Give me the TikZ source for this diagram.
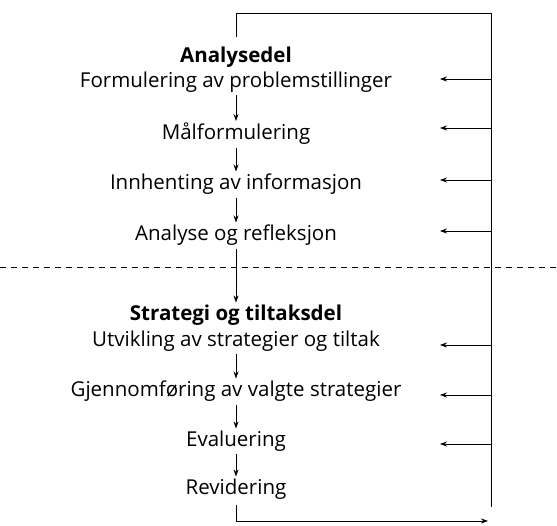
\documentclass[tikz,border=0pt]{standalone}
\usepackage{fontspec}
\setmainfont{Open Sans}
\usetikzlibrary{arrows.meta}

\tikzset{
  stage/.style={font=\fontsize{20.5}{23}\selectfont, inner xsep=2pt, inner ysep=0pt},
  head/.style={font=\fontsize{20.5}{23}\selectfont\bfseries, inner xsep=2pt, inner ysep=0pt},
  down/.style={-{Stealth[length=7pt,width=5pt]}, line width=0.8pt, shorten <=3pt, shorten >=2pt},
  fb/.style={-{Stealth[length=7pt,width=5pt]}, line width=0.8pt},
  loop/.style={line width=0.8pt}
}

\begin{document}
\begin{tikzpicture}[x=1pt,y=-1pt]
\useasboundingbox (0,0) rectangle (557,525);

% analysedel
\node[head]  (ana)  at (236,57)  {Analysedel};
\node[stage] (form) at (236,82)  {Formulering av problemstillinger};
\node[stage] (maal) at (236,134) {Målformulering};
\node[stage] (innh) at (236,184) {Innhenting av informasjon};
\node[stage] (refl) at (236,235) {Analyse og refleksjon};

% strategi- og tiltaksdel
\node[head]  (strat) at (236,315) {Strategi og tiltaksdel};
\node[stage] (utv)   at (236,341) {Utvikling av strategier og tiltak};
\node[stage] (gjen)  at (236,391) {Gjennomføring av valgte strategier};
\node[stage] (eval)  at (236,441) {Evaluering};
\node[stage] (rev)   at (236,489) {Revidering};

\draw[down] (form) -- (maal);
\draw[down] (maal) -- (innh);
\draw[down] (innh) -- (refl);
\draw[down] (refl) -- (strat);
\draw[down] (utv) -- (gjen);
\draw[down] (gjen) -- (eval);
\draw[down] (eval) -- (rev);

% skillelinje
\draw[dashed, dash pattern=on 6pt off 5pt, line width=0.7pt] (0,267) -- (557,267);

% tilbakekopling
\coordinate (tl) at (236,13);
\coordinate (tr) at (491,13);
\coordinate (br) at (491,507);
\coordinate (bl) at (236,521);
\coordinate (be) at (488,521);
\coordinate (spine) at (491,0);
\coordinate (tip) at (440,0);
\draw[loop, shorten <=10pt] (ana.north) -- (tl) -- (tr) -- (br);
\draw[fb, shorten <=6pt] (rev.south) -- (bl) -- (be);

\draw[fb] ([yshift=3pt]spine |- form) -- ([yshift=3pt]tip |- form);
\draw[fb] ([yshift=6pt]spine |- maal) -- ([yshift=6pt]tip |- maal);
\draw[fb] ([yshift=4pt]spine |- innh) -- ([yshift=4pt]tip |- innh);
\draw[fb] ([yshift=4pt]spine |- refl) -- ([yshift=4pt]tip |- refl);
\draw[fb] ([yshift=-4pt]spine |- utv) -- ([yshift=-4pt]tip |- utv);
\draw[fb] ([yshift=-4pt]spine |- gjen) -- ([yshift=-4pt]tip |- gjen);
\draw[fb] ([yshift=-3pt]spine |- eval) -- ([yshift=-3pt]tip |- eval);
\end{tikzpicture}
\end{document}
